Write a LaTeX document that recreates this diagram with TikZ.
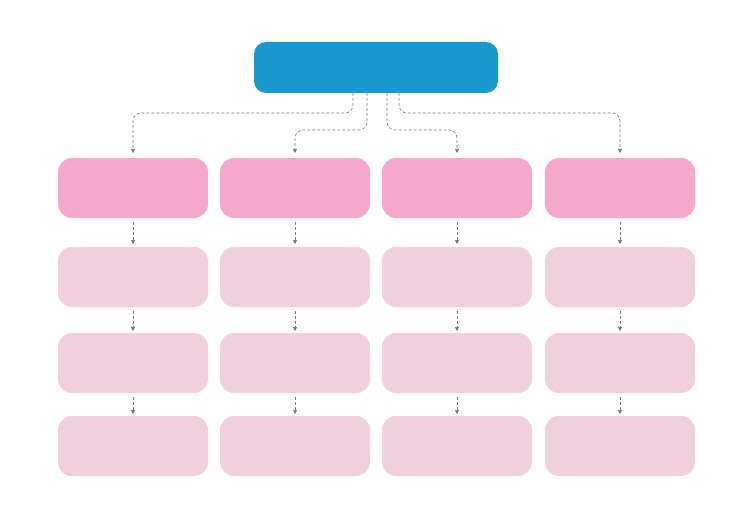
\documentclass[tikz,border=0pt]{standalone}
\usetikzlibrary{arrows.meta}
\definecolor{topc}{HTML}{1A97CF}
\definecolor{pinkA}{HTML}{F5A8CB}
\definecolor{pinkB}{HTML}{EFD0DC}
\definecolor{linec}{HTML}{777777}
\begin{document}
\begin{tikzpicture}[x=1pt,y=-1pt,
  topbox/.style={fill=topc,rounded corners=12pt,draw=none},
  headbox/.style={fill=pinkA,rounded corners=14pt,draw=none},
  subbox/.style={fill=pinkB,rounded corners=14pt,draw=none},
  conn/.style={draw=linec,densely dashed,line width=0.6pt,rounded corners=8pt,-{Triangle[length=4pt,width=4pt]}}]
\useasboundingbox (0,0) rectangle (740,519);
\fill[topc,rounded corners=12pt] (254,42) rectangle (498,93);
\node[inner sep=0pt,minimum width=0pt] (top) at (376,67) {};
\foreach \i/\cx in {1/133,2/295,3/457,4/620}{
  \fill[pinkA,rounded corners=14pt] (\cx-75,158) rectangle (\cx+75,218);
  \fill[pinkB,rounded corners=14pt] (\cx-75,247) rectangle (\cx+75,307);
  \fill[pinkB,rounded corners=14pt] (\cx-75,333) rectangle (\cx+75,393);
  \fill[pinkB,rounded corners=14pt] (\cx-75,416) rectangle (\cx+75,476);
  \coordinate (h\i) at (\cx,153);
  \coordinate (a\i) at (\cx,222); \coordinate (b\i) at (\cx,244);
  \coordinate (c\i) at (\cx,311); \coordinate (d\i) at (\cx,331);
  \coordinate (e\i) at (\cx,397); \coordinate (f\i) at (\cx,414);
  \draw[conn] (a\i) -- (b\i);
  \draw[conn] (c\i) -- (d\i);
  \draw[conn] (e\i) -- (f\i);
}
\coordinate (s1) at (353,93); \coordinate (s2) at (367,93);
\coordinate (s3) at (387,93); \coordinate (s4) at (399,93);
\draw[conn] (s1) -- (353,113) -- (133,113) -- (h1);
\draw[conn] (s2) -- (367,130) -- (295,130) -- (h2);
\draw[conn] (s3) -- (387,130) -- (457,130) -- (h3);
\draw[conn] (s4) -- (399,113) -- (620,113) -- (h4);
\end{tikzpicture}
\end{document}
